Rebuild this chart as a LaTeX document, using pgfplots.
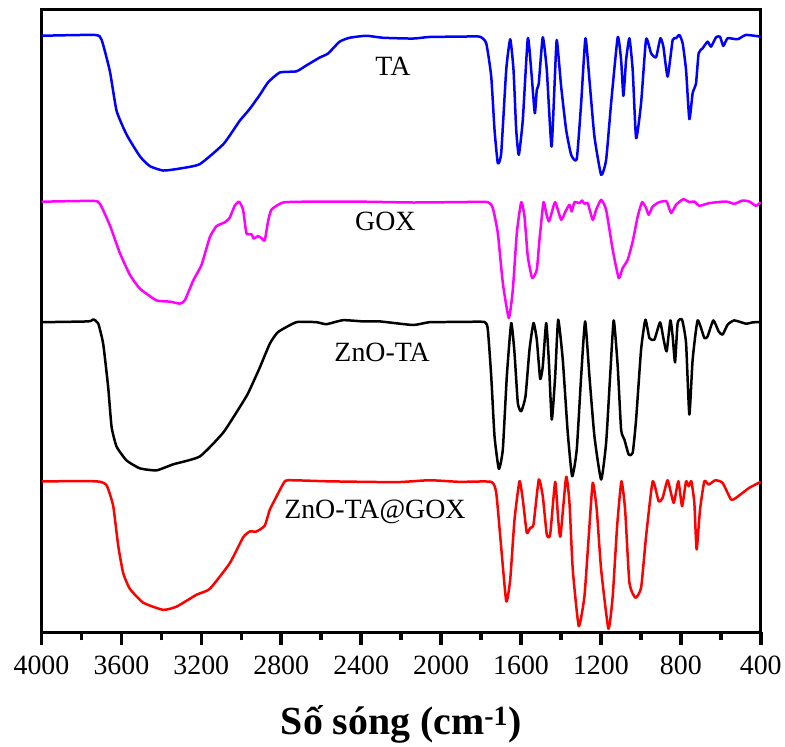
\documentclass[border=0pt]{standalone}
\usepackage{fontspec}
\setmainfont{Liberation Serif}
\usepackage{pgfplots}
\pgfplotsset{compat=1.18}
\definecolor{cblue}{RGB}{0,0,255}
\definecolor{cmag}{RGB}{255,0,255}
\definecolor{cred}{RGB}{255,0,0}
\begin{document}
\begin{tikzpicture}
\begin{axis}[
  width=720bp, height=623bp, scale only axis,
  xmin=400, xmax=4000, x dir=reverse,
  ymin=0, ymax=623,
  axis line style={line width=3bp},
  xtick={400,800,...,4000},
  minor x tick num=1,
  xtick pos=left,
  ytick=\empty,
  tick align=outside,
  major tick length=13bp, minor tick length=8bp,
  major tick style={line width=3.5bp, black},
  minor tick style={line width=3.5bp, black},
  xticklabel style={font=\fontsize{28}{32}\selectfont, yshift=-7bp},
  /pgf/number format/assume math mode=true,
  /pgf/number format/1000 sep={},
  xlabel={\textbf{Số sóng (cm\textsuperscript{-1})}},
  xlabel style={font=\fontsize{40}{46}\selectfont, yshift=-24bp},
  every axis plot/.style={line width=2.5bp, line join=round, mark=none, smooth, tension=0.3},
  clip=false,
]
% TA
\addplot[cblue] coordinates {
(3999,597.2)(3732.5,598)(3699,593.2)(3657.5,561.6)(3624,522.1)(3574,498.3)(3507.5,476.6)(3457.5,466.7)(3391,462.3)(3307.5,464.3)(3207.5,468.7)(3091,488.4)(3041,502.3)(3007.5,512.2)(2957.5,524)(2907.5,537.9)(2866,550.5)(2807.5,560.4)(2724,561.6)(2674,567.5)(2607.5,575.4)(2566,579.4)(2507.5,591.3)(2457.5,595.2)(2374,597.2)(2291,595.2)(2141,594.4)(2057.5,596)
(1907.5,596.3)(1807.5,596.3)(1774,589.7)(1749,556.3)(1732.5,503)(1716,469.7)(1699,480)(1674,563)(1654,593.7)(1637.5,563)(1624,503)(1611,478)(1591,513)(1566,594.7)(1549,563)(1531,519.7)(1521,543)(1511,549.7)(1491,595.7)(1471,563)(1447.5,486.3)(1432.5,546.3)(1421,593)(1399,546.3)(1374,503)(1349,478)(1321,473.7)(1299,529.7)(1277.5,594.7)(1257.5,553)(1232.5,496.3)(1199,458)(1174,473)(1149,529.7)(1116,595.7)(1099,573)(1087.5,537)(1074,573)(1057.5,594.7)(1041,563)(1024,494.7)(999,529.7)(974,593.7)(949,579.7)(924,575.7)(902.5,594.7)(887.5,586.3)(866,556.3)(841,593)(824,594.7)(807.5,598)(791,589.7)(774,563)(757.5,513.7)(741,539.7)(724,549.7)(711,579.7)(691,584.7)(666,591.3)(649,586.3)(624,595.7)(604,596.3)(587.5,587)(566,594.7)(516,593.7)(474,598)(400,596.3)
};
% GOX
\addplot[cmag] coordinates {
(3999,431.1)(3741,431.9)(3707.5,429.1)(3657.5,407.4)(3607.5,379.7)(3557.5,358)(3507.5,344.1)(3424,332.3)(3357.5,331.1)(3307.5,329.1)(3282.5,332.3)(3241,352)(3199,367.8)(3157.5,395.5)(3124,406.6)(3082.5,410.5)(3057.5,415.3)(3032.5,427.2)(3011,431.1)(2991,423.2)(2974,399.5)(2949,398.7)(2937.5,394.3)(2916,396.7)(2899,394.7)(2882.5,392.4)(2866,411.3)(2849,423.2)(2791,430.3)(2674,431.1)(2391,431.1)(2141,430.3)
(1907.5,430.7)(1766,430.7)(1741,424.7)(1716,399.7)(1691,349.7)(1661,314.7)(1641,343)(1621,399.7)(1599,430.7)(1582.5,416.3)(1566,376.3)(1544,354.7)(1521,363)(1507.5,393)(1487.5,430.7)(1474,419.7)(1461,411.3)(1449,418)(1429,430.7)(1399,413)(1377.5,421.3)(1357.5,428)(1346,421.3)(1332.5,430.7)(1307.5,429.7)(1294,432.3)(1282.5,429)(1266,429.7)(1241,413)(1224,423)(1199,433)(1174,423)(1141,383)(1111,354.7)(1091,364.7)(1066,373)(1041,391.3)(1016,416.3)(994,430.7)(974,424.7)(961,418)(941,426.3)(907.5,430.7)(871,431.3)(849,419.7)(824,428)(787.5,433.7)(757.5,430.7)(732.5,431.3)(707.5,427)(657.5,429.7)(574,431.3)(532.5,429)(491,432.3)(457.5,431.3)(424,427)(400,430.7)
};
% ZnO-TA
\addplot[black] coordinates {
(3999,310.5)(3766,311.3)(3741,313.3)(3716,309.3)(3691,288.8)(3666,245.3)(3649,205.7)(3624,186)(3574,172.1)(3507.5,164.2)(3424,162.2)(3341,168.2)(3207.5,176.1)(3091,199.8)(3007.5,225.5)(2966,239.3)(2907.5,265)(2857.5,288.8)(2816,300.6)(2724,310.5)(2624,310.5)(2574,308.5)(2491,312.5)(2391,311.3)(2307.5,311.3)(2141,307.7)(2057.5,310.5)
(1907.5,310.7)(1782.5,310.7)(1766,303)(1749,256.3)(1732.5,196.3)(1711,163.7)(1691,183)(1671,256.3)(1649,309.7)(1632.5,279.7)(1616,229.7)(1599,221.3)(1577.5,236.3)(1557.5,283)(1537.5,309.7)(1521,293)(1504,253.7)(1491,266.3)(1474,309.7)(1461,273)(1446,213)(1429,256.3)(1414,313)(1391,273)(1366,199.7)(1344,156.3)(1321,183)(1299,256.3)(1279,311.3)(1257.5,256.3)(1232.5,196.3)(1199,153)(1174,189.7)(1154,256.3)(1136,312.3)(1116,266.3)(1099,203)(1082.5,193)(1061,178)(1041,179.7)(1024,213)(999,283)(977.5,313)(957.5,294.7)(932.5,293)(904,310.3)(886,293)(871,281.3)(852.5,312.3)(841,296.3)(829,270.3)(816,309.7)(794,313)(774,289.7)(757.5,218)(741,273)(716,312.3)(682.5,294.7)(666,296.3)(637.5,312.3)(611,301.3)(591,298)(566,308)(532.5,312.3)(474,309)(441,310.3)(400,310.7)
};
% ZnO-TA@GOX
\addplot[cred] coordinates {
(3999,151.2)(3724,151.2)(3674,147.2)(3641,126.6)(3616,87.1)(3591,59.4)(3557.5,43.6)(3491,29.8)(3391,22.6)(3324,25.8)(3224,37.7)(3157.5,43.6)(3057.5,69.3)(2991,95)(2957.5,101)(2924,101)(2882.5,106.9)(2857.5,122.7)(2832.5,132.6)(2791,148.4)(2766,152.3)(2557.5,151.2)(2224,150.4)(2057.5,152.3)
(1907.5,150.7)(1749,150.7)(1724,139.7)(1704,96.3)(1674,31.3)(1654,53)(1632.5,113)(1607.5,151.3)(1591,133)(1571,99.7)(1554,104.7)(1537.5,108)(1511,153)(1491,136.3)(1471,98)(1454,98)(1429,150.7)(1414,113)(1402.5,96.3)(1374,155.7)(1357.5,129.7)(1341,63)(1311,6.3)(1282.5,36.3)(1261,96.3)(1241,149.7)(1221,123)(1199,63)(1162.5,3.7)(1141,36.3)(1119,106.3)(1097.5,151.3)(1079,123)(1057.5,49.7)(1027.5,34.7)(999,44.7)(974,96.3)(941,151.3)(911,131.3)(891,134.7)(866,152.3)(836,129.7)(812.5,151.3)(794,126.3)(774,151.3)(761,146.3)(747.5,151.3)(732.5,129.7)(721,83)(704,123)(682.5,151.3)(661,148)(627.5,152.3)(591,149.7)(549,133)(524,134.7)(457.5,144.7)(400,150.7)
};
\node[font=\fontsize{28}{32}\selectfont] at (axis cs:2241,566.7) {TA};
\node[font=\fontsize{28}{32}\selectfont] at (axis cs:2279,411.7) {GOX};
\node[font=\fontsize{28}{32}\selectfont] at (axis cs:2295,280) {ZnO-TA};
\node[font=\fontsize{28}{32}\selectfont] at (axis cs:2331,120.7) {ZnO-TA@GOX};
\end{axis}
\path ([shift={(-41.5bp,-110bp)}]current axis.south west) rectangle ([shift={(23.5bp,10bp)}]current axis.north east);
\end{tikzpicture}
\end{document}
